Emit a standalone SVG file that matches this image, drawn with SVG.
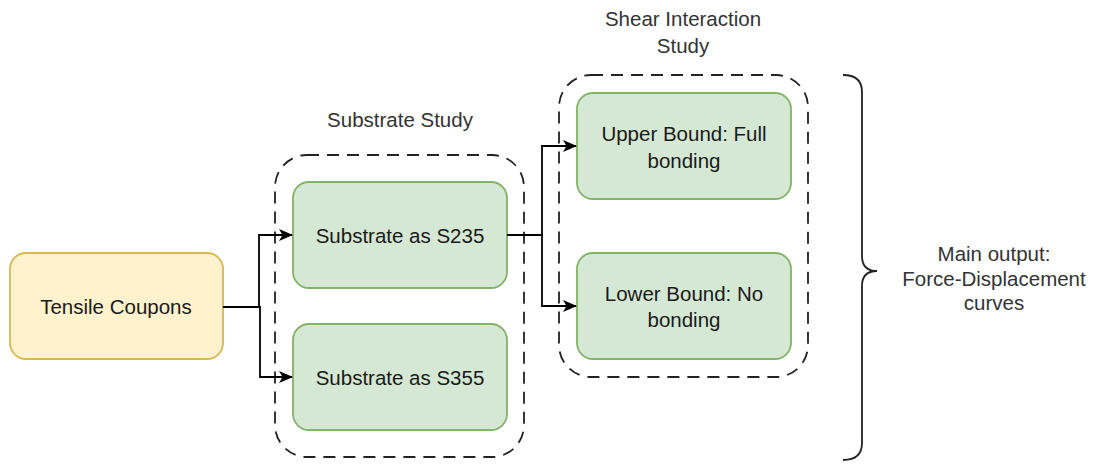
<svg xmlns="http://www.w3.org/2000/svg" width="1094" height="465" viewBox="0 0 1094 465">
<defs>
<style>
.t{font-family:"Liberation Sans",Arial,Helvetica,sans-serif;font-size:20.5px;fill:#1a1a1a;text-anchor:middle;dominant-baseline:central}
.lbl{fill:#333}
.grp{fill:none;stroke:#222;stroke-width:1.8;stroke-dasharray:12 8}
.green{fill:#d5e8d4;stroke:#82b366;stroke-width:1.8}
.yellow{fill:#fff2cc;stroke:#d6b656;stroke-width:1.8}
.edge{fill:none;stroke:#000;stroke-width:1.8}
</style>
<marker id="arr" markerWidth="14" markerHeight="12" viewBox="0 0 14 12" refX="13" refY="6" orient="auto" markerUnits="userSpaceOnUse">
<path d="M0,0 L14,6 L0,12 L3.5,6 Z" fill="#000"/>
</marker>
</defs>
<rect width="1094" height="465" fill="#fff"/>

<g id="substrate-study">
<rect class="grp" x="275" y="155" width="249" height="302" rx="32"/>
<text class="t lbl" x="400" y="119">Substrate Study</text>
</g>

<g id="shear-study">
<rect class="grp" x="559" y="75" width="249" height="302" rx="32"/>
<text class="t lbl" x="683" y="18">Shear Interaction</text>
<text class="t lbl" x="683" y="45">Study</text>
</g>

<g id="tensile">
<rect class="yellow" x="10" y="253" width="213" height="106" rx="16"/>
<text class="t" x="116" y="306">Tensile Coupons</text>
</g>

<g id="s235">
<rect class="green" x="293" y="182" width="214" height="106" rx="16"/>
<text class="t" x="400" y="235">Substrate as S235</text>
</g>

<g id="s355">
<rect class="green" x="293" y="324" width="214" height="106" rx="16"/>
<text class="t" x="400" y="377">Substrate as S355</text>
</g>

<g id="upper">
<rect class="green" x="577" y="93" width="214" height="106" rx="16"/>
<text class="t" x="684" y="133">Upper Bound: Full</text>
<text class="t" x="684" y="160">bonding</text>
</g>

<g id="lower">
<rect class="green" x="577" y="253" width="214" height="106" rx="16"/>
<text class="t" x="684" y="293">Lower Bound: No</text>
<text class="t" x="684" y="319">bonding</text>
</g>

<g id="output">
<path d="M843,75 Q862,75 862,92 L862,256 Q862,271 877,271 Q862,271 862,286 L862,443 Q862,460 843,460" fill="none" stroke="#222" stroke-width="1.8"/>
<text class="t lbl" x="994" y="253">Main output:</text>
<text class="t lbl" x="994" y="278">Force-Displacement</text>
<text class="t lbl" x="994" y="302">curves</text>
</g>

<g id="connectors">
<path class="edge" d="M223,307 L259,307 L259,235 L292,235" marker-end="url(#arr)"/>
<path class="edge" d="M223,307 L260,307 L260,377 L292,377" marker-end="url(#arr)"/>
<path class="edge" d="M507,235 L542,235 L542,146 L576,146" marker-end="url(#arr)"/>
<path class="edge" d="M507,235 L542,235 L542,306 L576,306" marker-end="url(#arr)"/>
</g>
</svg>
